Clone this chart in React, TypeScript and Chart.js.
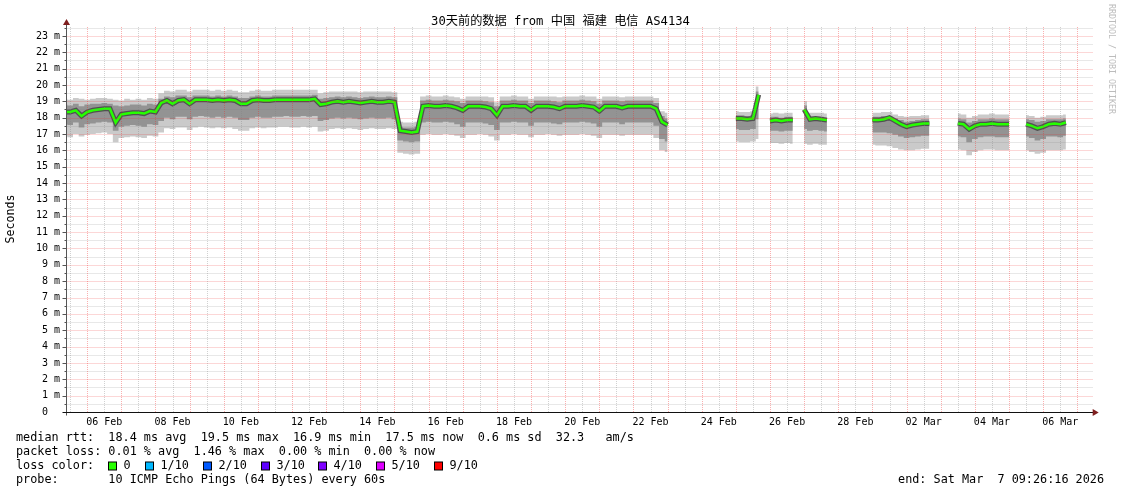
import React, { useEffect, useRef } from 'react';
import { Chart, registerables } from 'chart.js';

Chart.register(...registerables);

const _ = null;

// Samples every 4 hours starting Feb 5 08:00 (x axis unit: days since Feb 1 00:00)
const sampleStartDay = 4 + 8 / 24;
const sampleStepDay = 4 / 24;
const axisStartDay = 4 + (9 + 26 / 60 + 16 / 3600) / 24; // Feb 5 09:26:16
const axisEndDay = axisStartDay + 30;

// median round trip time (ms)
const medianMs = [
  18.35, 18.35, 18.45, 18.1, 18.35, 18.45,
  18.5, 18.55, 18.55, 17.7, 18.2, 18.25,
  18.3, 18.3, 18.25, 18.4, 18.35, 18.9,
  19.05, 18.85, 19.05, 19.1, 18.85, 19.1,
  19.1, 19.1, 19.05, 19.1, 19.05, 19.1,
  19.05, 18.85, 18.85, 19.05, 19.1, 19.05,
  19.05, 19.1, 19.1, 19.1, 19.1, 19.1,
  19.1, 19.1, 19.15, 18.8, 18.85, 18.95,
  19.0, 18.95, 19.0, 18.95, 18.9, 18.95,
  19.0, 18.95, 18.95, 19.0, 18.95, 17.2,
  17.15, 17.1, 17.15, 18.7, 18.75, 18.7,
  18.7, 18.75, 18.7, 18.6, 18.45, 18.7,
  18.7, 18.7, 18.65, 18.55, 18.15, 18.7,
  18.7, 18.75, 18.7, 18.7, 18.45, 18.7,
  18.7, 18.7, 18.65, 18.55, 18.7, 18.7,
  18.7, 18.75, 18.7, 18.65, 18.4, 18.7,
  18.7, 18.7, 18.6, 18.7, 18.7, 18.7,
  18.7, 18.7, 18.55, 17.75, 17.55, _,
  _, _, _, _, _, _,
  _, _, _, _, 17.95, 17.95,
  17.9, 17.95, 19.4, _, 17.8, 17.85,
  17.8, 17.85, 17.85, _, 18.5, 17.9,
  17.95, 17.9, 17.85, _, _, _,
  _, _, _, _, 17.85, 17.85,
  17.9, 18.0, 17.8, 17.6, 17.45, 17.55,
  17.6, 17.65, 17.65, _, _, _,
  _, 17.65, 17.6, 17.3, 17.5, 17.6,
  17.6, 17.65, 17.6, 17.6, 17.6, _,
  _, 17.6, 17.5, 17.35, 17.45, 17.6,
  17.65, 17.6, 17.7, _, _, _,
  _,
];

// slowest ping of each sample (ms)
const smokeMaxMs = [
  19.15, 19.1, 19.2, 19.15, 19.1, 19.15,
  19.2, 19.2, 19.15, 19.1, 19.05, 19.15,
  19.1, 19.15, 19.1, 19.2, 19.15, 19.5,
  19.65, 19.6, 19.7, 19.7, 19.6, 19.7,
  19.7, 19.7, 19.65, 19.7, 19.65, 19.7,
  19.65, 19.55, 19.55, 19.65, 19.7, 19.65,
  19.65, 19.7, 19.7, 19.7, 19.7, 19.7,
  19.7, 19.7, 19.7, 19.5, 19.55, 19.6,
  19.6, 19.6, 19.6, 19.6, 19.55, 19.6,
  19.6, 19.6, 19.6, 19.6, 19.55, 17.75,
  17.7, 17.7, 17.75, 19.3, 19.35, 19.3,
  19.3, 19.35, 19.3, 19.25, 19.15, 19.3,
  19.3, 19.3, 19.3, 19.25, 18.95, 19.3,
  19.3, 19.35, 19.3, 19.3, 19.15, 19.3,
  19.3, 19.3, 19.3, 19.25, 19.3, 19.3,
  19.3, 19.35, 19.3, 19.3, 19.15, 19.3,
  19.3, 19.3, 19.25, 19.3, 19.3, 19.3,
  19.3, 19.3, 19.2, 18.4, 18.3, _,
  _, _, _, _, _, _,
  _, _, _, _, 18.4, 18.35,
  18.35, 18.4, 19.9, _, 18.25, 18.3,
  18.25, 18.3, 18.3, _, 19.0, 18.3,
  18.3, 18.3, 18.25, _, _, _,
  _, _, _, _, 18.3, 18.3,
  18.35, 18.35, 18.2, 18.1, 18.05, 18.1,
  18.1, 18.15, 18.15, _, _, _,
  _, 18.25, 18.2, 18.0, 18.1, 18.2,
  18.2, 18.25, 18.2, 18.2, 18.2, _,
  _, 18.15, 18.1, 18.0, 18.05, 18.15,
  18.15, 18.15, 18.2, _, _, _,
  _,
];

// upper inner smoke edge (ms)
const smokeHighMs = [
  18.8, 18.75, 18.85, 18.7, 18.8, 18.85,
  18.85, 18.9, 18.85, 18.75, 18.7, 18.75,
  18.8, 18.8, 18.75, 18.85, 18.8, 19.15,
  19.3, 19.25, 19.35, 19.35, 19.25, 19.35,
  19.35, 19.35, 19.3, 19.35, 19.3, 19.35,
  19.3, 19.2, 19.2, 19.3, 19.35, 19.3,
  19.3, 19.35, 19.35, 19.35, 19.35, 19.35,
  19.35, 19.35, 19.4, 19.15, 19.2, 19.25,
  19.3, 19.25, 19.3, 19.25, 19.2, 19.25,
  19.3, 19.25, 19.25, 19.3, 19.25, 17.45,
  17.4, 17.4, 17.45, 19.05, 19.1, 19.05,
  19.05, 19.1, 19.05, 19.0, 18.9, 19.05,
  19.05, 19.05, 19.0, 18.95, 18.7, 19.05,
  19.05, 19.1, 19.05, 19.05, 18.9, 19.05,
  19.05, 19.05, 19.0, 18.95, 19.05, 19.05,
  19.05, 19.1, 19.05, 19.0, 18.85, 19.05,
  19.05, 19.05, 19.0, 19.05, 19.05, 19.05,
  19.05, 19.05, 18.9, 18.1, 17.95, _,
  _, _, _, _, _, _,
  _, _, _, _, 18.15, 18.15,
  18.1, 18.15, 19.6, _, 18.05, 18.05,
  18.0, 18.05, 18.05, _, 18.75, 18.05,
  18.05, 18.05, 18.0, _, _, _,
  _, _, _, _, 18.05, 18.05,
  18.1, 18.1, 17.95, 17.85, 17.75, 17.8,
  17.85, 17.9, 17.9, _, _, _,
  _, 17.95, 17.9, 17.7, 17.8, 17.9,
  17.9, 17.95, 17.9, 17.9, 17.9, _,
  _, 17.9, 17.85, 17.75, 17.8, 17.9,
  17.9, 17.9, 17.95, _, _, _,
  _,
];

// lower inner smoke edge (ms)
const smokeLowMs = [
  17.6, 17.55, 17.7, 17.4, 17.6, 17.65,
  17.7, 17.75, 17.7, 17.2, 17.45, 17.5,
  17.55, 17.5, 17.45, 17.6, 17.55, 17.8,
  18.0, 17.9, 18.05, 18.05, 17.9, 18.05,
  18.1, 18.05, 18.0, 18.05, 18.0, 18.05,
  18.0, 17.85, 17.85, 18.0, 18.05, 18.0,
  18.0, 18.05, 18.05, 18.1, 18.05, 18.05,
  18.1, 18.05, 18.1, 17.8, 17.85, 17.95,
  18.0, 17.95, 18.0, 17.95, 17.9, 17.95,
  18.0, 17.95, 17.95, 18.0, 17.9, 16.6,
  16.55, 16.5, 16.55, 17.7, 17.75, 17.7,
  17.7, 17.75, 17.7, 17.6, 17.45, 17.7,
  17.7, 17.7, 17.65, 17.55, 17.25, 17.7,
  17.7, 17.75, 17.7, 17.7, 17.5, 17.7,
  17.7, 17.7, 17.65, 17.6, 17.7, 17.7,
  17.7, 17.75, 17.7, 17.65, 17.45, 17.7,
  17.7, 17.7, 17.6, 17.7, 17.7, 17.7,
  17.7, 17.7, 17.5, 16.7, 16.55, _,
  _, _, _, _, _, _,
  _, _, _, _, 17.3, 17.25,
  17.25, 17.3, 17.9, _, 17.2, 17.2,
  17.15, 17.2, 17.2, _, 17.3, 17.2,
  17.25, 17.2, 17.15, _, _, _,
  _, _, _, _, 17.1, 17.1,
  17.1, 17.05, 16.95, 16.85, 16.75, 16.8,
  16.85, 16.9, 16.9, _, _, _,
  _, 16.85, 16.8, 16.5, 16.7, 16.8,
  16.85, 16.85, 16.8, 16.8, 16.8, _,
  _, 16.85, 16.75, 16.6, 16.7, 16.85,
  16.85, 16.8, 16.9, _, _, _,
  _,
];

// fastest ping of each sample (ms)
const smokeMinMs = [
  16.9, 16.8, 17.0, 16.85, 16.95, 17.0,
  17.05, 17.1, 17.0, 16.5, 16.75, 16.8,
  16.85, 16.8, 16.75, 16.9, 16.85, 17.1,
  17.35, 17.3, 17.4, 17.4, 17.25, 17.4,
  17.45, 17.4, 17.35, 17.4, 17.35, 17.4,
  17.3, 17.2, 17.2, 17.35, 17.4, 17.35,
  17.4, 17.4, 17.45, 17.45, 17.4, 17.4,
  17.45, 17.4, 17.45, 17.15, 17.2, 17.3,
  17.35, 17.3, 17.35, 17.3, 17.25, 17.3,
  17.35, 17.3, 17.3, 17.35, 17.3, 15.85,
  15.8, 15.75, 15.8, 16.95, 17.0, 16.95,
  16.95, 17.0, 16.95, 16.9, 16.75, 16.95,
  16.95, 17.0, 16.95, 16.85, 16.6, 16.95,
  16.95, 17.0, 16.95, 16.95, 16.8, 16.95,
  16.95, 17.0, 16.95, 16.9, 16.95, 16.95,
  16.95, 17.0, 16.95, 16.9, 16.75, 16.95,
  16.95, 16.95, 16.9, 16.95, 16.95, 16.95,
  16.95, 16.95, 16.75, 16.0, 15.9, _,
  _, _, _, _, _, _,
  _, _, _, _, 16.55, 16.5,
  16.5, 16.55, 16.7, _, 16.45, 16.45,
  16.4, 16.45, 16.4, _, 16.4, 16.35,
  16.4, 16.35, 16.35, _, _, _,
  _, _, _, _, 16.35, 16.3,
  16.3, 16.25, 16.15, 16.05, 16.0, 16.0,
  16.05, 16.1, 16.1, _, _, _,
  _, 16.05, 16.0, 15.7, 15.9, 16.0,
  16.05, 16.05, 16.0, 16.0, 16.0, _,
  _, 16.0, 15.9, 15.8, 15.85, 16.0,
  16.0, 16.0, 16.05, _, _, _,
  _,
];

const xTickDays = [5.5, 7.5, 9.5, 11.5, 13.5, 15.5, 17.5, 19.5, 21.5, 23.5, 25.5, 27.5, 29.5, 31.5, 33.5];
const xTickLabels = ['06 Feb', '08 Feb', '10 Feb', '12 Feb', '14 Feb', '16 Feb', '18 Feb', '20 Feb', '22 Feb', '24 Feb', '26 Feb', '28 Feb', '02 Mar', '04 Mar', '06 Mar'];
const yTickValues = [0, 1, 2, 3, 4, 5, 6, 7, 8, 9, 10, 11, 12, 13, 14, 15, 16, 17, 18, 19, 20, 21, 22, 23];
const yTickLabels = ['0  ', '1 m', '2 m', '3 m', '4 m', '5 m', '6 m', '7 m', '8 m', '9 m', '10 m', '11 m', '12 m', '13 m', '14 m', '15 m', '16 m', '17 m', '18 m', '19 m', '20 m', '21 m', '22 m', '23 m'];
const yAxisMax = 23.6;

const titleText = '30天前的数据 from 中国 福建 电信 AS4134';
const yAxisTitle = 'Seconds';
const watermark = 'RRDTOOL / TOBI OETIKER';
const medianRttLine = 'median rtt:  18.4 ms avg  19.5 ms max  16.9 ms min  17.5 ms now  0.6 ms sd  32.3   am/s';
const packetLossLine = 'packet loss: 0.01 % avg  1.46 % max  0.00 % min  0.00 % now';
const lossColorTitle = 'loss color:';
const lossLabels = ['0', '1/10', '2/10', '3/10', '4/10', '5/10', '9/10'];
const lossColors = ['#26ff00', '#00b8ff', '#0059ff', '#5e00ff', '#7e00ff', '#dd00ff', '#ff0000'];
const probeLine = 'probe:       10 ICMP Echo Pings (64 Bytes) every 60s';
const endText = 'end: Sat Mar  7 09:26:16 2026';

const MONO = '"DejaVu Sans Mono", monospace';

const toPoints = (arr: (number | null)[]) =>
  arr.map((v, i) => ({ x: sampleStartDay + i * sampleStepDay, y: v }));

const decorPlugin = {
  id: 'smokepingDecor',
  afterDatasetsDraw(chart: any) {
    const { ctx, chartArea: ca, scales } = chart;
    const xs = scales.x;
    const ys = scales.y;
    ctx.save();
    ctx.lineWidth = 1;
    ctx.setLineDash([1, 1]);
    const right = ca.right + 2;
    const major = 'rgba(240,32,32,0.36)';
    const minor = 'rgba(128,128,128,0.36)';
    // horizontal grid
    for (let k = 1; k <= Math.floor(yAxisMax * 2); k++) {
      const v = k / 2;
      const py = Math.round(ys.getPixelForValue(v)) + 0.5;
      ctx.strokeStyle = k % 2 === 0 ? major : minor;
      ctx.beginPath();
      ctx.moveTo(Math.round(ca.left) + 0.5, py);
      ctx.lineTo(right, py);
      ctx.stroke();
    }
    // vertical grid
    for (let d = Math.ceil(axisStartDay * 2); d / 2 <= axisEndDay; d++) {
      const day = d / 2;
      const px = Math.round(xs.getPixelForValue(day)) + 0.5;
      ctx.strokeStyle = d % 2 === 0 ? major : minor;
      ctx.beginPath();
      ctx.moveTo(px, Math.round(ca.bottom));
      ctx.lineTo(px, Math.round(ca.top));
      ctx.stroke();
    }
    ctx.setLineDash([]);
    // axes
    const ax = Math.round(ca.left) - 0.5;
    const ay = Math.round(ca.bottom) + 0.5;
    ctx.strokeStyle = '#555';
    ctx.beginPath();
    ctx.moveTo(ax, ca.top - 3);
    ctx.lineTo(ax, ay + 3);
    ctx.stroke();
    for (let k = 1; k <= Math.floor(yAxisMax * 2); k++) {
      const py = Math.round(ys.getPixelForValue(k / 2)) + 0.5;
      ctx.beginPath();
      ctx.moveTo(ax - (k % 2 === 0 ? 4 : 2), py);
      ctx.lineTo(ax, py);
      ctx.stroke();
    }
    ctx.strokeStyle = '#111';
    ctx.beginPath();
    ctx.moveTo(ax - 4, ay);
    ctx.lineTo(ca.right + 3, ay);
    ctx.stroke();
    // arrows
    ctx.fillStyle = '#7f1f1f';
    ctx.beginPath();
    ctx.moveTo(ax, ca.top - 7);
    ctx.lineTo(ax - 3.5, ca.top - 1);
    ctx.lineTo(ax + 3.5, ca.top - 1);
    ctx.closePath();
    ctx.fill();
    ctx.beginPath();
    ctx.moveTo(ca.right + 8, ay);
    ctx.lineTo(ca.right + 2, ay - 3.5);
    ctx.lineTo(ca.right + 2, ay + 3.5);
    ctx.closePath();
    ctx.fill();
    ctx.restore();
  },
  afterDraw(chart: any) {
    const { ctx, chartArea: ca } = chart;
    ctx.save();
    ctx.fillStyle = '#000';
    ctx.textBaseline = 'middle';
    // title
    ctx.textAlign = 'center';
    ctx.font = '12.2px "DejaVu Sans Mono", "Noto Sans CJK SC", monospace';
    ctx.fillText(titleText, 560.5, 21.5);
    // y axis title
    ctx.save();
    ctx.translate(10.5, (ca.top + ca.bottom) / 2);
    ctx.rotate(-Math.PI / 2);
    ctx.font = '11.6px ' + MONO;
    ctx.fillText(yAxisTitle, 0, 0);
    ctx.restore();
    // watermark
    ctx.save();
    ctx.translate(1111.5, 4);
    ctx.rotate(Math.PI / 2);
    ctx.textAlign = 'left';
    ctx.fillStyle = '#bcbcbc';
    ctx.font = '8.3px ' + MONO;
    ctx.fillText(watermark, 0, 0);
    ctx.restore();
    // legend
    ctx.textAlign = 'left';
    ctx.font = '11.8px ' + MONO;
    ctx.fillText(medianRttLine, 16, 438.3);
    ctx.fillText(packetLossLine, 16, 451.7);
    ctx.fillText(lossColorTitle, 16, 466);
    const boxX = [108.5, 145.5, 203.5, 261.5, 318.5, 376.5, 434.5];
    lossLabels.forEach((t, i) => {
      ctx.fillStyle = lossColors[i];
      ctx.fillRect(boxX[i], 462, 8, 8);
      ctx.strokeStyle = '#000';
      ctx.lineWidth = 1;
      ctx.strokeRect(boxX[i], 462, 8, 8);
      ctx.fillStyle = '#000';
      ctx.fillText(t, boxX[i] + 15, 466);
    });
    ctx.fillText(probeLine, 16, 480);
    ctx.textAlign = 'right';
    ctx.fillText(endText, 1104, 480);
    ctx.restore();
  },
};

export default function App() {
  const ref = useRef<HTMLCanvasElement>(null);
  useEffect(() => {
    document.body.style.margin = '0';
    const smokeBase = { pointRadius: 0, stepped: 'middle' as const, spanGaps: false, tension: 0 };
    const lineBase = { pointRadius: 0, spanGaps: false, tension: 0 };
    const hidden = { borderWidth: 0, borderColor: 'rgba(0,0,0,0)' };
    const chart = new Chart(ref.current!, {
      type: 'line',
      data: {
        datasets: [
          { ...lineBase, label: 'median', data: toPoints(medianMs), borderColor: '#26ff00', borderWidth: 2.5, fill: false, order: 0 },
          { ...lineBase, label: 'median shade', data: toPoints(medianMs), borderColor: '#505050', borderWidth: 5, fill: false, order: 1 },
          { ...smokeBase, ...hidden, label: 'smoke low', data: toPoints(smokeLowMs), fill: false, order: 3 },
          { ...smokeBase, ...hidden, label: 'smoke high', data: toPoints(smokeHighMs), fill: 2, backgroundColor: '#939393', order: 2 },
          { ...smokeBase, ...hidden, label: 'smoke min', data: toPoints(smokeMinMs), fill: false, order: 5 },
          { ...smokeBase, ...hidden, label: 'smoke max', data: toPoints(smokeMaxMs), fill: 4, backgroundColor: '#cacaca', order: 4 },
        ] as any,
      },
      options: {
        animation: false,
        responsive: false,
        devicePixelRatio: 1,
        events: [],
        layout: { padding: { left: 0, right: 30.3, top: 26.1, bottom: 0 } },
        plugins: { legend: { display: false }, tooltip: { enabled: false }, title: { display: false } },
        scales: {
          x: {
            type: 'linear',
            min: axisStartDay,
            max: axisEndDay,
            afterBuildTicks: (s: any) => { s.ticks = xTickDays.map((v) => ({ value: v })); },
            afterFit: (s: any) => { s.height = 82; },
            grid: { display: false, drawTicks: false },
            border: { display: false },
            ticks: {
              autoSkip: false,
              maxRotation: 0,
              minRotation: 0,
              padding: 4,
              color: '#000',
              font: { family: MONO, size: 10 },
              callback: (_v: any, i: number) => xTickLabels[i],
            },
          },
          y: {
            type: 'linear',
            min: 0,
            max: yAxisMax,
            afterBuildTicks: (s: any) => { s.ticks = yTickValues.map((v) => ({ value: v })); },
            afterFit: (s: any) => { s.width = 66.5; },
            grid: { display: false, drawTicks: false },
            border: { display: false },
            ticks: {
              autoSkip: false,
              padding: 6.5,
              color: '#000',
              font: { family: MONO, size: 10 },
              callback: (_v: any, i: number) => yTickLabels[i],
            },
          },
        },
      } as any,
      plugins: [decorPlugin],
    });
    return () => chart.destroy();
  }, []);
  return (
    <div style={{ width: 1121, height: 494, background: '#fff' }}>
      <canvas ref={ref} width={1121} height={494} style={{ display: 'block', width: 1121, height: 494 }} />
    </div>
  );
}
